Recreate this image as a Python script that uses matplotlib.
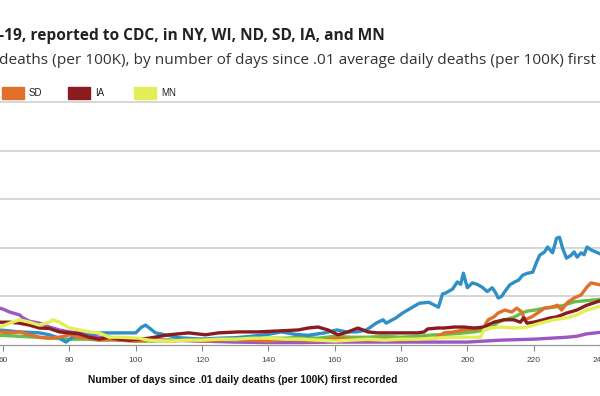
import matplotlib
matplotlib.use("Agg")
import matplotlib.pyplot as plt
from matplotlib.patches import Rectangle

# average daily deaths (per 100K)
states = ["NY", "WI", "ND", "SD", "IA", "MN"]
colors = ["#9b57c2", "#66bf4c", "#2f8fc6", "#e2702b", "#8a1c20", "#e4ef58"]

ny_days = [56, 59, 60, 62, 65, 66, 68, 71, 74, 77, 80, 83, 86, 89, 95, 100, 110, 120, 130,
           140, 150, 160, 170, 180, 190, 200, 210, 220, 225, 230, 233, 236, 240]
ny_vals = [0.85, 0.76, 0.74, 0.68, 0.62, 0.56, 0.49, 0.45, 0.37, 0.31, 0.27, 0.25, 0.21, 0.16,
           0.14, 0.12, 0.10, 0.08, 0.06, 0.05, 0.05, 0.06, 0.06, 0.06, 0.06, 0.06, 0.10, 0.12,
           0.14, 0.16, 0.18, 0.23, 0.26]

wi_days = [56, 59, 65, 70, 75, 80, 85, 90, 95, 100, 105, 110, 115, 120, 125, 130, 135, 140,
           145, 150, 155, 160, 165, 170, 175, 180, 185, 190, 193, 196, 199, 202, 205, 207.5,
           209.3, 211.3, 214.3, 216.4, 218.2, 220.3, 223.3, 226.3, 229.3, 232.2, 235.2, 240]
wi_vals = [0.21, 0.20, 0.18, 0.16, 0.14, 0.12, 0.12, 0.10, 0.10, 0.08, 0.08, 0.10, 0.10, 0.12,
           0.12, 0.10, 0.12, 0.14, 0.14, 0.16, 0.14, 0.18, 0.16, 0.16, 0.18, 0.16, 0.18, 0.21,
           0.21, 0.23, 0.25, 0.27, 0.31, 0.37, 0.47, 0.52, 0.58, 0.66, 0.70, 0.72, 0.76, 0.78,
           0.82, 0.89, 0.91, 0.94]

nd_days = [56, 59, 65, 71, 74, 77, 79, 81, 86, 89, 95, 100, 101.8, 103, 104.5, 106, 109, 113,
           120, 125, 130, 135, 140, 144, 148, 152, 157, 160.6, 163.6, 166.6, 169.6, 172.5,
           174.6, 175.5, 178.5, 180.5, 182.5, 185.5, 188.4, 191.3, 192.5, 193.4, 195.5, 197,
           198, 198.8, 200, 201.5, 203, 204.5, 206, 207.5, 208.5, 209.3, 210.3, 211.3, 212.8,
           214.3, 215.5, 216.7, 218.2, 219.7, 220.9, 221.8, 223.3, 224.2, 225.7, 226.9, 227.8,
           228.7, 229.9, 231.3, 232.2, 233.1, 234.3, 235.2, 236.1, 237.3, 240]
nd_vals = [0.30, 0.31, 0.27, 0.25, 0.21, 0.14, 0.06, 0.16, 0.23, 0.25, 0.25, 0.25, 0.37, 0.41,
           0.33, 0.25, 0.21, 0.15, 0.12, 0.14, 0.15, 0.18, 0.22, 0.27, 0.22, 0.20, 0.25, 0.31,
           0.27, 0.27, 0.31, 0.45, 0.52, 0.45, 0.56, 0.66, 0.74, 0.86, 0.88, 0.78, 1.05, 1.07,
           1.15, 1.30, 1.25, 1.48, 1.18, 1.28, 1.25, 1.19, 1.10, 1.18, 1.08, 0.97, 1.00, 1.10,
           1.24, 1.30, 1.34, 1.44, 1.48, 1.50, 1.71, 1.85, 1.92, 2.02, 1.90, 2.20, 2.22, 2.00,
           1.79, 1.85, 1.92, 1.81, 1.90, 1.86, 2.02, 1.96, 1.88]

sd_days = [56, 59, 62, 65, 68, 71, 74, 77, 80, 83, 86, 89, 92, 95, 100, 105, 110, 115, 120,
           125, 130, 135, 140, 145, 150, 155, 160, 165, 170, 175, 180, 185, 190, 193, 196, 199,
           203, 205, 206.3, 208, 209.3, 211.3, 213.4, 214.9, 216.4, 217.3, 219.4, 221.2, 223.3,
           225.4, 227.2, 228.4, 230.1, 232.2, 234.3, 236.1, 237.3, 240]
sd_vals = [0.25, 0.27, 0.25, 0.27, 0.21, 0.16, 0.14, 0.16, 0.21, 0.16, 0.14, 0.10, 0.12, 0.10,
           0.08, 0.10, 0.08, 0.10, 0.08, 0.10, 0.12, 0.10, 0.08, 0.12, 0.10, 0.08, 0.14, 0.12,
           0.10, 0.12, 0.10, 0.12, 0.14, 0.25, 0.27, 0.31, 0.33, 0.37, 0.52, 0.58, 0.66, 0.72,
           0.68, 0.76, 0.68, 0.52, 0.58, 0.66, 0.76, 0.78, 0.82, 0.72, 0.87, 0.97, 1.03, 1.20,
           1.28, 1.24]

ia_days = [56, 59, 62, 65, 68, 71, 74, 77, 80, 83, 86, 89, 92, 95, 98, 101, 104, 110, 116,
           121, 125, 131, 137, 143, 149, 152, 155, 158, 161, 164, 167, 170, 173, 176, 179, 182,
           185, 187, 188, 191, 193, 196, 199, 202, 205, 208, 211, 214, 216, 217, 218, 220, 223,
           225, 227, 230, 233, 236, 240]
ia_vals = [0.46, 0.47, 0.47, 0.45, 0.41, 0.35, 0.34, 0.27, 0.25, 0.23, 0.16, 0.12, 0.16, 0.12,
           0.10, 0.12, 0.14, 0.21, 0.25, 0.21, 0.25, 0.27, 0.27, 0.29, 0.31, 0.35, 0.37, 0.31,
           0.21, 0.27, 0.35, 0.27, 0.25, 0.25, 0.25, 0.25, 0.25, 0.27, 0.33, 0.35, 0.35, 0.37,
           0.37, 0.35, 0.37, 0.47, 0.52, 0.52, 0.47, 0.56, 0.45, 0.47, 0.52, 0.56, 0.58, 0.66,
           0.72, 0.82, 0.91]

mn_days = [56, 59, 62, 65, 68, 71, 74, 75, 77, 80, 83, 86, 89, 92, 95, 101, 104, 110, 115,
           120, 125, 130, 135, 140, 145, 150, 155, 160, 165, 170, 175, 180, 185, 190, 195, 199,
           204, 205, 207, 210, 214, 218, 222, 226, 230, 233, 236, 240]
mn_vals = [0.33, 0.37, 0.45, 0.52, 0.47, 0.41, 0.47, 0.52, 0.47, 0.35, 0.31, 0.27, 0.25, 0.16,
           0.16, 0.14, 0.10, 0.08, 0.10, 0.10, 0.12, 0.12, 0.14, 0.14, 0.12, 0.12, 0.10, 0.08,
           0.10, 0.12, 0.10, 0.12, 0.12, 0.14, 0.16, 0.16, 0.16, 0.31, 0.35, 0.37, 0.35, 0.37,
           0.45, 0.52, 0.56, 0.62, 0.72, 0.80]

series_days = [ny_days, wi_days, nd_days, sd_days, ia_days, mn_days]
series_vals = [ny_vals, wi_vals, nd_vals, sd_vals, ia_vals, mn_vals]

x_ticks = [60, 80, 100, 120, 140, 160, 180, 200, 220, 240]
y_grid = [1, 2, 3, 4, 5]

title = "-19, reported to CDC, in NY, WI, ND, SD, IA, and MN"
subtitle = "deaths (per 100K), by number of days since .01 average daily deaths (per 100K) first"
xlabel = "Number of days since .01 daily deaths (per 100K) first recorded"

W, H = 600, 396
fig = plt.figure(figsize=(W / 100, H / 100), dpi=100)

# the reference is a crop, so the plot area runs off both sides
ax = fig.add_axes([0, 51 / H, 1, 245 / H])
ax.set_xlim(59.1, 238.2)
ax.set_ylim(0, 5.05)

for d, v, c in zip(series_days, series_vals, colors):
    ax.plot(d, v, color=c, lw=2.4, solid_joinstyle="round", solid_capstyle="round")

ax.set_yticks(y_grid)
ax.yaxis.grid(True, color="#cccccc", lw=1.1)
ax.set_axisbelow(True)
ax.tick_params(axis="y", left=False, labelleft=False)
ax.set_xticks(x_ticks)
ax.tick_params(axis="x", direction="out", length=4, width=0.8, color="#888888",
               labelsize=6, labelcolor="#444444", pad=5)
for lab in ax.get_xticklabels():
    lab.set_fontfamily("Liberation Sans")
for s in ["left", "right", "top"]:
    ax.spines[s].set_visible(False)
ax.spines["bottom"].set_color("#999999")
ax.spines["bottom"].set_linewidth(0.9)

fig.text(243 / W, 1 - 380 / H, xlabel, ha="center", va="center",
         fontsize=7.4, fontweight="bold", family="Liberation Sans", color="#111111")

fig.text(-1 / W, 1 - 36 / H, title, ha="left", va="center",
         fontsize=11.2, fontweight="bold", family="Open Sans", color="#222222")
fig.text(-1 / W, 1 - 60 / H, subtitle, ha="left", va="center",
         fontsize=11.1, family="Open Sans", color="#333333")

# legend row, first three entries fall off the left edge
for i, (name, c) in enumerate(zip(states, colors)):
    x0 = 2 + (i - 3) * 66
    fig.patches.append(Rectangle((x0 / W, 1 - 99 / H), 22 / W, 12 / H,
                                 transform=fig.transFigure, color=c))
    fig.text((x0 + 27) / W, 1 - 93 / H, name, ha="left", va="center",
             fontsize=7, family="Liberation Sans", color="#222222")

fig.savefig("out.png", dpi=100)
